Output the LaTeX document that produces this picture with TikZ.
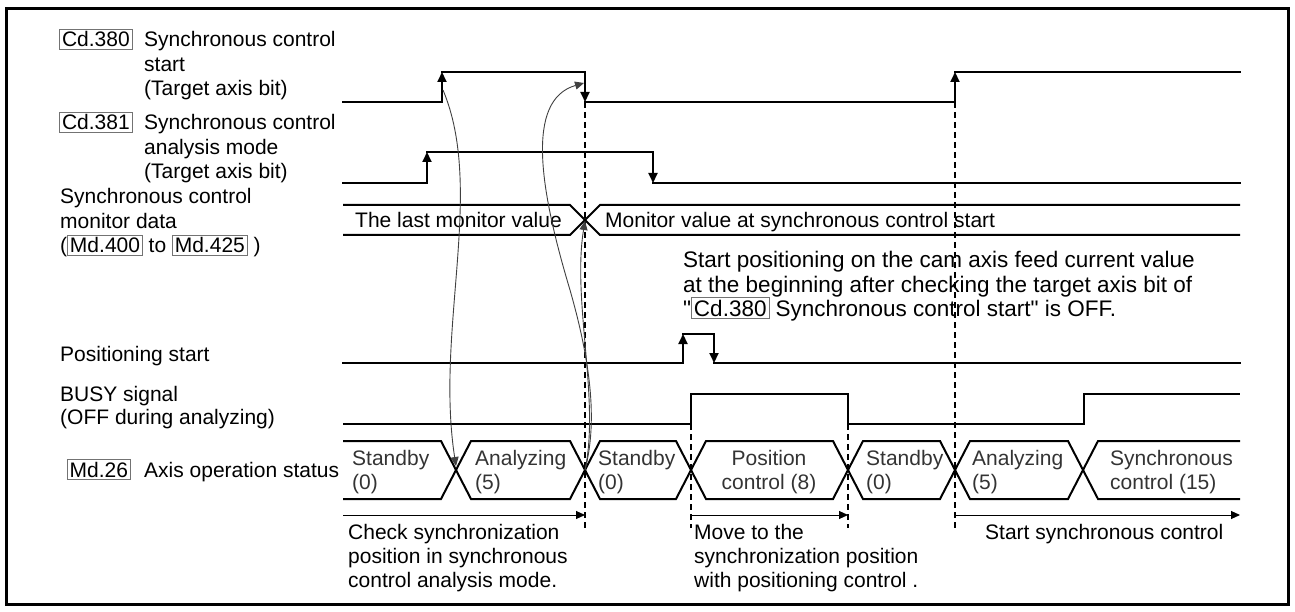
\documentclass[tikz,border=0pt]{standalone}
\usepackage{fontspec}
\newfontfamily\lsf{Liberation Sans}
\usetikzlibrary{arrows.meta}
\definecolor{bxc}{gray}{0.45}
\definecolor{stc}{gray}{0.2}
\definecolor{cvc}{gray}{0.25}
\setlength{\fboxsep}{2pt}
\setlength{\fboxrule}{0.8pt}
\newcommand{\bxd}[1]{\fcolorbox{bxc}{white}{#1}}
\begin{document}
\begin{tikzpicture}[x=1pt,y=-1pt,
  every node/.style={font=\lsf\fontsize{21}{24.5}\selectfont,inner sep=0pt},
  lbl/.style={anchor=base west},
  note/.style={anchor=base west,font=\lsf\fontsize{22.5}{24.5}\selectfont},
  stt/.style={anchor=base west,text=stc},
  sig/.style={line width=2pt,line cap=rect},
  sarr/.style={-{Triangle[length=10pt,width=9pt]}},
  band/.style={line width=2pt,line join=miter},
  dsh/.style={line width=1.1pt,dash pattern=on 6pt off 4pt},
  barr/.style={line width=1pt,-{Triangle[length=9pt,width=8pt]}},
  curve/.style={line width=0.9pt,draw=cvc,-{Triangle[length=9pt,width=8pt]}}]
\useasboundingbox (0,0) rectangle (1295,612);
% frame
\draw[line width=3pt] (6.5,8.5) rectangle (1288,604);

% left labels
\node[lbl] (l1a) at (59,47) {\bxd{Cd.380}};
\node[lbl] (l1b) at (144,47) {Synchronous control};
\node[lbl] (l1c) at (144,71.5) {start};
\node[lbl] (l1d) at (144,96) {(Target axis bit)};
\node[lbl] (l2a) at (59,130) {\bxd{Cd.381}};
\node[lbl] (l2b) at (144,130) {Synchronous control};
\node[lbl] (l2c) at (144,154.5) {analysis mode};
\node[lbl] (l2d) at (144,179) {(Target axis bit)};
\node[lbl] (l3a) at (60,204) {Synchronous control};
\node[lbl] (l3b) at (60,228.5) {monitor data};
\node[lbl] (l3c) at (60,253) {(\bxd{Md.400} to \bxd{Md.425} )};
\node[lbl] (l4) at (60,361) {Positioning start};
\node[lbl] (l5a) at (60,401) {BUSY signal};
\node[lbl] (l5b) at (60,424) {(OFF during analyzing)};
\node[anchor=base east] (l6a) at (131,477) {\bxd{Md.26}};
\node[lbl] (l6b) at (144,477) {Axis operation status};

% Cd.380 signal
\coordinate (a0) at (343,102); \coordinate (a1) at (442,102);
\coordinate (a2) at (442,72);  \coordinate (a3) at (585,72);
\coordinate (a4) at (585,102); \coordinate (a5) at (955,102);
\coordinate (a6) at (955,72);  \coordinate (a7) at (1240,72);
\draw[sig] (a0) -- (a1); \draw[sig,sarr] (a1) -- (a2);
\draw[sig] (a2) -- (a3); \draw[sig,sarr] (a3) -- (a4);
\draw[sig] (a4) -- (a5); \draw[sig,sarr] (a5) -- (a6);
\draw[sig] (a6) -- (a7);

% Cd.381 signal
\coordinate (b0) at (343,183); \coordinate (b1) at (427,183);
\coordinate (b2) at (427,152); \coordinate (b3) at (653,152);
\coordinate (b4) at (653,183); \coordinate (b5) at (1240,183);
\draw[sig] (b0) -- (b1); \draw[sig,sarr] (b1) -- (b2);
\draw[sig] (b2) -- (b3); \draw[sig,sarr] (b3) -- (b4);
\draw[sig] (b4) -- (b5);

% monitor band
\draw[band] (343,205) -- (570,205) -- (600,235) -- (1240,235);
\draw[band] (343,235) -- (570,235) -- (600,205) -- (1240,205);
\node[lbl] (m1) at (355,228) {The last monitor value};
\node[lbl] (m2) at (605,228) {Monitor value at synchronous control start};

% dashed guides
\coordinate (d1b) at (585,528); \coordinate (d2b) at (955,528);
\coordinate (d3t) at (691,424); \coordinate (d3b) at (691,528);
\coordinate (d4t) at (848,424); \coordinate (d4b) at (848,528);
\draw[dsh] (a4) -- (d1b);
\draw[dsh] (a5) -- (d2b);
\draw[dsh] (d3t) -- (d3b);
\draw[dsh] (d4t) -- (d4b);

% note
\node[note] (n1) at (683,268) {Start positioning on the cam axis feed current value};
\node[note] (n2) at (683,292) {at the beginning after checking the target axis bit of};
\node[note] (n3) at (683,316) {"\bxd{Cd.380} Synchronous control start" is OFF.};

% positioning start
\coordinate (p0) at (343,363); \coordinate (p1) at (683,363);
\coordinate (p2) at (683,334); \coordinate (p3) at (714,334);
\coordinate (p4) at (714,363); \coordinate (p5) at (1240,363);
\draw[sig] (p0) -- (p1); \draw[sig,sarr] (p1) -- (p2);
\draw[sig] (p2) -- (p3); \draw[sig,sarr] (p3) -- (p4);
\draw[sig] (p4) -- (p5);

% BUSY
\draw[sig,line cap=butt] (343,424) -- (691,424) -- (691,394) -- (848,394) -- (848,424)
  -- (1084,424) -- (1084,394) -- (1240,394);

% state bar
\draw[band] (343,441) -- (441,441) -- (471,499) -- (570,499) -- (600,441) -- (676,441)
  -- (706,499) -- (833,499) -- (863,441) -- (940,441) -- (970,499) -- (1068,499)
  -- (1098,441) -- (1240,441);
\draw[band] (343,499) -- (441,499) -- (471,441) -- (570,441) -- (600,499) -- (676,499)
  -- (706,441) -- (833,441) -- (863,499) -- (940,499) -- (970,441) -- (1068,441)
  -- (1098,499) -- (1240,499);
\node[stt] (s1a) at (352,465) {Standby};
\node[stt] (s1b) at (352,489) {(0)};
\node[stt] (s2a) at (475,465) {Analyzing};
\node[stt] (s2b) at (475,489) {(5)};
\node[stt] (s3a) at (598,465) {Standby};
\node[stt] (s3b) at (598,489) {(0)};
\node[anchor=base,text=stc] (s4a) at (769,465) {Position};
\node[anchor=base,text=stc] (s4b) at (769,489) {control (8)};
\node[stt] (s5a) at (866,465) {Standby};
\node[stt] (s5b) at (866,489) {(0)};
\node[stt] (s6a) at (972,465) {Analyzing};
\node[stt] (s6b) at (972,489) {(5)};
\node[stt] (s7a) at (1110,465) {Synchronous};
\node[stt] (s7b) at (1110,489) {control (15)};

% bottom arrows
\coordinate (e1a) at (343,515); \coordinate (e1b) at (585,515);
\coordinate (e2a) at (691,515); \coordinate (e2b) at (848,515);
\coordinate (e3a) at (955,515); \coordinate (e3b) at (1240,515);
\draw[barr] (e1a) -- (e1b);
\draw[barr] (e2a) -- (e2b);
\draw[barr] (e3a) -- (e3b);
\node[lbl] (t1a) at (348,539) {Check synchronization};
\node[lbl] (t1b) at (348,563) {position in synchronous};
\node[lbl] (t1c) at (348,587) {control analysis mode.};
\node[lbl] (t2a) at (694,539) {Move to the};
\node[lbl] (t2b) at (694,563) {synchronization position};
\node[lbl] (t2c) at (694,587) {with positioning control .};
\node[lbl] (t3a) at (985,539) {Start synchronous control};

% causal curves
\coordinate (c1s) at (443,90);  \coordinate (x1) at (456,466);
\coordinate (x2) at (585,470);  \coordinate (c2e) at (584,83);
\coordinate (c2m) at (570,290); \coordinate (c3e) at (585,221);
\draw[curve] (c1s) .. controls (485,190) and (435,330) .. (x1);
\draw[curve] (x2) .. controls (598,420) and (590,360) .. (c2m)
  .. controls (540,190) and (525,100) .. (c2e);
\draw[curve] (x2) .. controls (600,400) and (572,300) .. (c3e);
\end{tikzpicture}
\end{document}
